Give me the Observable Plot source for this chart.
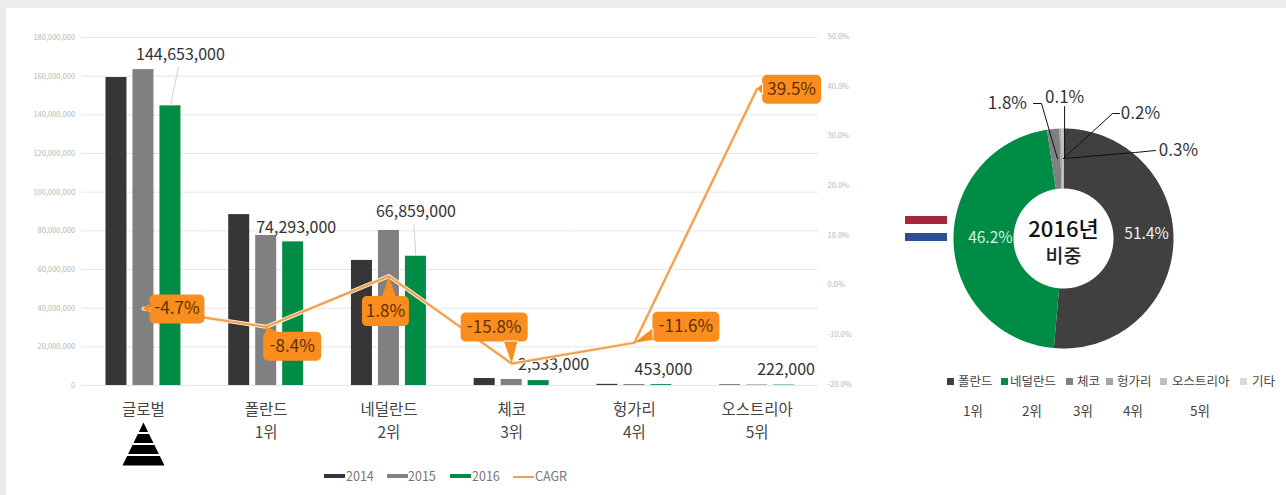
<!DOCTYPE html>
<html lang="ko">
<head>
<meta charset="utf-8">
<script src="https://cdn.jsdelivr.net/npm/d3@7"></script>
<script src="https://cdn.jsdelivr.net/npm/@observablehq/plot@0.6"></script>
<style>
  html, body { margin: 0; padding: 0; width: 1286px; height: 495px; overflow: hidden; background: #ececec; }
  #page { position: absolute; left: 6px; top: 8px; right: 0; bottom: 0; background: #fff; }
  .layer { position: absolute; }
  .layer svg { display: block; max-width: none; background: transparent; }
  .abs { position: absolute; white-space: nowrap; font-family: "Noto Sans CJK KR", "Noto Sans", sans-serif; line-height: 1; }
</style>
</head>
<body>
<div id="page"></div>
<div id="root"></div>
<script>
const FONT = '"Noto Sans CJK KR", "Noto Sans", sans-serif';

// ---------- data ----------
const categories = ["글로벌", "폴란드", "네덜란드", "체코", "헝가리", "오스트리아"];
const ranks = ["", "1위", "2위", "3위", "4위", "5위"];
const years = ["2014", "2015", "2016"];
const values2014 = [159300000, 88400000, 64700000, 3600000, 600000, 320000];
const values2015 = [163400000, 77600000, 80200000, 3100000, 520000, 270000];
const values2016 = [144653000, 74293000, 66859000, 2533000, 453000, 222000];
const cagr = [-4.7, -8.4, 1.8, -15.8, -11.6, 39.5];
const leftTicks = [0, 20e6, 40e6, 60e6, 80e6, 100e6, 120e6, 140e6, 160e6, 180e6];
const rightTicks = [-20, -10, 0, 10, 20, 30, 40, 50];
const shareNames = ["폴란드", "네덜란드", "체코", "헝가리", "오스트리아", "기타"];
const shareValues = [51.4, 46.2, 1.8, 0.3, 0.2, 0.1];
const shareRanks = ["1위", "2위", "3위", "4위", "5위"];

// ---------- styles ----------
const yearColors = ["#363636", "#808080", "#008c45"];
const shareColors = ["#404040", "#008c45", "#808080", "#a5a5a5", "#bfbfbf", "#d9d9d9"];
const orange = "#f98d1e";

const root = document.getElementById("root");
function place(node, left, top) {
  const d = document.createElement("div");
  d.className = "layer";
  d.style.left = left + "px";
  d.style.top = top + "px";
  d.append(node);
  root.append(d);
}

// symbol helpers: shapes drawn around a data point, in pixels relative to it
const calloutBox = ([x0, x1, y0, y1]) => ({
  draw(p) {
    const r = 5;
    p.moveTo(x0 + r, y0);
    p.arcTo(x1, y0, x1, y1, r);
    p.arcTo(x1, y1, x0, y1, r);
    p.arcTo(x0, y1, x0, y0, r);
    p.arcTo(x0, y0, x1, y0, r);
    p.closePath();
    const cl = (v, a, b) => Math.max(a, Math.min(b, v));
    if (x0 > 0) {
      const c = cl(0, y0 + 8, y1 - 8);
      p.moveTo(x0 + 1, c - 6); p.lineTo(0, 0); p.lineTo(x0 + 1, c + 6); p.closePath();
    } else if (y0 > 0) {
      const c = cl(0, x0 + 9, x1 - 9);
      p.moveTo(c - 7, y0 + 1); p.lineTo(0, 0); p.lineTo(c + 7, y0 + 1); p.closePath();
    } else {
      const c = cl(0, x0 + 9, x1 - 9);
      p.moveTo(c - 8, y1 - 1); p.lineTo(0, 0); p.lineTo(c + 6, y1 - 1); p.closePath();
    }
  }
});
const pyramid = {
  draw(p) {
    const slope = 21 / 43, top = 38;
    [[38, 47.5], [49.5, 58.5], [60.5, 69.5], [71.5, 81]].forEach(([a, b]) => {
      const wa = (a - top) * slope, wb = (b - top) * slope;
      p.moveTo(-wa, a); p.lineTo(wa, a); p.lineTo(wb, b); p.lineTo(-wb, b); p.closePath();
    });
  }
};
const leaderTo = (dx, dy) => ({ draw(p) { p.moveTo(0, 0); p.lineTo(dx, dy); } });

// ---------- bars (left axis) ----------
const barRows = categories.flatMap((cat, i) => [values2014, values2015, values2016]
  .map((vals, j) => ({ cat, year: years[j], value: vals[i] })));
const labelOffsets = [[10, -51], [3, -14], [0, -44], [15, -16], [2, -15], [2, -15]];

const barPlot = Plot.plot({
  width: 1286, height: 495,
  marginLeft: 81.6, marginRight: 468, marginTop: 37, marginBottom: 110,
  style: { fontFamily: FONT, background: "transparent" },
  fx: { domain: categories, padding: 0, axis: null, round: false },
  x: { domain: years, paddingInner: 0.222, paddingOuter: 0.885, axis: null, round: false },
  y: { domain: [0, 180e6], axis: null },
  color: { domain: years, range: yearColors },
  marks: [
    Plot.gridY(leftTicks, { stroke: "#e6e6e6", strokeOpacity: 1, strokeWidth: 1 }),
    Plot.axisY(leftTicks, { anchor: "left", tickSize: 0, tickPadding: 7, fontSize: 7.5, color: "#b5b5b5", label: null,
      tickFormat: d3.format(",") }),
    Plot.barY(barRows, { fx: "cat", x: "year", y: "value", fill: "year" }),
    ...categories.map((cat, i) => Plot.text([cat], {
      fx: d => d, x: () => "2016", y: () => values2016[i],
      text: () => d3.format(",")(values2016[i]),
      dx: labelOffsets[i][0], dy: labelOffsets[i][1],
      fontSize: 16, fill: "#333"
    })),
    ...[0, 2].map(i => Plot.dot([categories[i]], {
      fx: d => d, x: () => "2016", y: () => values2016[i],
      symbol: leaderTo(labelOffsets[i][0] - 2, labelOffsets[i][1] + 12),
      stroke: "#cfcfcf", strokeWidth: 1, fill: "none"
    }))
  ]
});
place(barPlot, 0, 0);

// ---------- CAGR line (right axis) ----------
const lineRows = categories.map((cat, i) => ({ cat, cagr: cagr[i] }));
const boxes = [
  [6, 61, -14, 15],
  [-3, 55, 5, 34],
  [-27, 20, 20, 50],
  [-51, 16, -51, -22],
  [18, 85, -31, -1],
  [5, 64, -14, 15]
];

const linePlot = Plot.plot({
  width: 1286, height: 495,
  marginLeft: 81.6, marginRight: 468, marginTop: 36, marginBottom: 111,
  style: { fontFamily: FONT, background: "transparent" },
  x: { type: "band", domain: categories, padding: 0, round: false, axis: null },
  y: { domain: [-20, 50], axis: null },
  marks: [
    Plot.axisY(rightTicks, { anchor: "right", tickSize: 0, tickPadding: 9, fontSize: 7.5, color: "#b5b5b5", label: null,
      tickFormat: d => d.toFixed(1) + "%" }),
    Plot.axisX(categories, {
      anchor: "bottom", tickSize: 0, tickPadding: 14, fontSize: 15.5, color: "#444", label: null, lineHeight: 1.5,
      tickFormat: (c) => { const r = ranks[categories.indexOf(c)]; return r ? c + "\n" + r : c; }
    }),
    Plot.line(lineRows, { x: "cat", y: "cagr", stroke: "#fff3e3", strokeWidth: 4 }),
    Plot.line(lineRows, { x: "cat", y: "cagr", stroke: "#f0a04f", strokeWidth: 2.2 }),
    Plot.dot([{ cat: categories[0], cagr: -20 }], { x: "cat", y: "cagr", symbol: pyramid, fill: "#000" }),
    ...lineRows.map((d, i) => Plot.dot([d], { x: "cat", y: "cagr", symbol: calloutBox(boxes[i]), fill: orange })),
    ...lineRows.map((d, i) => Plot.text([d], {
      x: "cat", y: "cagr", text: r => r.cagr.toFixed(1) + "%",
      dx: (boxes[i][0] + boxes[i][1]) / 2, dy: (boxes[i][2] + boxes[i][3]) / 2,
      fontSize: 17, fill: "#5e2f00"
    }))
  ]
});
place(linePlot, 0, 0);

// ---------- donut ----------
const TAU = Math.PI * 2, INNER = 50 / 110;
const pie = d3.pie().sort(null).startAngle(0).endAngle(TAU)(shareValues);
const polar = (a, r) => ({ x: r * Math.sin(a), y: r * Math.cos(a) });
const slicePts = pie.flatMap((s, i) => {
  const n = Math.max(2, Math.ceil((s.endAngle - s.startAngle) / 0.02));
  const angles = d3.range(n + 1).map(k => s.startAngle + (s.endAngle - s.startAngle) * k / n);
  return [...angles.map(a => polar(a, 1)), ...angles.reverse().map(a => polar(a, INNER))]
    .map(p => ({ ...p, name: shareNames[i] }));
});
const leaderLines = [
  [[0.0, 0.727], [0.655, 0.782], [0.836, 0.8]],
  [[0.0, 0.727], [0.445, 1.136], [0.51, 1.136]],
  [[-0.055, 0.727], [-0.2, 1.227], [-0.273, 1.227]],
  [[0.01, 0.727], [0.01, 1.2]]
];
const leaderRows = leaderLines.flatMap((l, k) => l.map(([x, y]) => ({ x, y, k })));
const outerLabels = [
  { x: 1.045, y: 0.8, i: 3 },
  { x: 0.7, y: 1.136, i: 4 },
  { x: -0.51, y: 1.227, i: 2 },
  { x: 0.01, y: 1.28, i: 5 }
];
const innerLabels = [
  { x: 0.755, y: 0.045, i: 0, fill: "#f0f0f0" },
  { x: -0.665, y: 0.0, i: 1, fill: "#d5f2e2" }
];
const pct = i => shareValues[i].toFixed(1) + "%";

const donut = Plot.plot({
  width: 440, height: 440, margin: 0,
  style: { fontFamily: FONT, background: "transparent" },
  x: { domain: [-2, 2], axis: null },
  y: { domain: [-2, 2], axis: null },
  color: { domain: shareNames, range: shareColors },
  marks: [
    Plot.line(slicePts, { x: "x", y: "y", z: "name", fill: "name", stroke: "none" }),
    Plot.line(leaderRows, { x: "x", y: "y", z: "k", stroke: "#111", strokeWidth: 1 }),
    Plot.text(outerLabels, { x: "x", y: "y", text: d => pct(d.i), fontSize: 17, fill: "#333" }),
    Plot.text(innerLabels, { x: "x", y: "y", text: d => pct(d.i), fontSize: 15.5, fill: d => d.fill }),
    Plot.text(["2016년"], { x: () => 0, y: () => 0.08, text: d => d, fontSize: 22, fontWeight: 500, fill: "#111" }),
    Plot.text(["비중"], { x: () => 0, y: () => -0.17, text: d => d, fontSize: 19.5, fontWeight: 500, fill: "#222" })
  ]
});
place(donut, 843, 18);

// ---------- HTML pieces: flag and legends ----------
function el(text, css) {
  const d = document.createElement("div");
  d.className = "abs";
  d.textContent = text;
  d.style.cssText += css;
  root.append(d);
  return d;
}
el("", "left:905px;top:216px;width:42px;height:8px;background:#a5283a;");
el("", "left:905px;top:233px;width:42px;height:8px;background:#2c4f92;");

const legendX = [[324, 346], [387, 408], [450, 472]];
years.forEach((y, i) => {
  el("", `left:${legendX[i][0]}px;top:474px;width:21px;height:4px;background:${yearColors[i]};`);
  el(y, `left:${legendX[i][1]}px;top:470px;font-size:12.5px;color:#777;`);
});
el("", `left:513px;top:476px;width:21px;height:2px;background:#f0a04f;`);
el("CAGR", `left:535px;top:470px;font-size:12.5px;color:#777;`);

const shareLegendX = [947, 1001, 1066, 1106, 1160, 1240];
const shareTextX = [958, 1010, 1077, 1117, 1172, 1252];
shareNames.forEach((n, i) => {
  el("", `left:${shareLegendX[i]}px;top:378px;width:7px;height:7px;background:${shareColors[i]};`);
  el(n, `left:${shareTextX[i]}px;top:375px;font-size:12.5px;color:#444;`);
});
const rankX = [973, 1032, 1083, 1133, 1200];
shareRanks.forEach((r, i) => {
  el(r, `left:${rankX[i]}px;top:404px;font-size:13.5px;color:#444;transform:translateX(-50%);`);
});
</script>
</body>
</html>
